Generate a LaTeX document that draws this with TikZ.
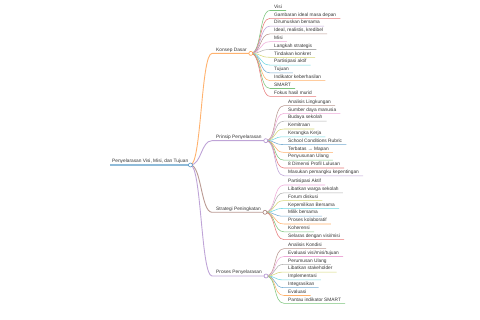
\documentclass[tikz,border=0pt]{standalone}
\usepackage{fontspec}
\setmainfont{Liberation Sans}
\usepackage{tikz}
\usetikzlibrary{calc}
\usepackage{xcolor}
\definecolor{mmblue}{HTML}{1F77B4}
\definecolor{mmorange}{HTML}{FF7F0E}
\definecolor{mmgreen}{HTML}{2CA02C}
\definecolor{mmred}{HTML}{D62728}
\definecolor{mmpurple}{HTML}{9467BD}
\definecolor{mmbrown}{HTML}{8C564B}
\definecolor{mmpink}{HTML}{E377C2}
\definecolor{mmgray}{HTML}{7F7F7F}
\definecolor{mmolive}{HTML}{BCBD22}
\definecolor{mmcyan}{HTML}{17BECF}
\definecolor{mmtext}{HTML}{333333}

\begin{document}
\begin{tikzpicture}[x=1pt,y=-1pt,
  every node/.style={font=\fontsize{4.8}{5}\selectfont,text=mmtext,inner ysep=1pt,text height=3.6pt,text depth=1pt,anchor=south west},
  root/.style={inner xsep=2pt},
  topic/.style={inner xsep=4pt},
  leaf/.style={inner xsep=4pt},
  lnk/.style={line width=.55pt,draw=#1!62},
  tlnk/.style={line width=.9pt,draw=#1!60},
  knob/.style={line width=.6pt,draw=#1!75,fill=white}]
  \useasboundingbox (0,0) rectangle (480,320);

  % root and main topics
  \node[root] (rt) at (110,165) {Penyelarasan Visi, Misi, dan Tujuan};
  \node[topic] (kd) at (212,53.4) {Konsep Dasar};
  \node[topic] (pp) at (212,140.7) {Prinsip Penyelarasan};
  \node[topic] (sp) at (212,212.3) {Strategi Peningkatan};
  \node[topic] (ps) at (212,276) {Proses Penyelarasan};

  % Konsep Dasar
  \node[leaf] (kd1) at (270,10.5) {Visi};
  \node[leaf] (kd2) at (270,18.3) {Gambaran ideal masa depan};
  \node[leaf] (kd3) at (270,26.1) {Dirumuskan bersama};
  \node[leaf] (kd4) at (270,33.9) {Ideal, realistis, kredibel};
  \node[leaf] (kd5) at (270,41.7) {Misi};
  \node[leaf] (kd6) at (270,49.5) {Langkah strategis};
  \node[leaf] (kd7) at (270,57.3) {Tindakan konkret};
  \node[leaf] (kd8) at (270,65.1) {Partisipasi aktif};
  \node[leaf] (kd9) at (270,72.9) {Tujuan};
  \node[leaf] (kd10) at (270,80.7) {Indikator keberhasilan};
  \node[leaf] (kd11) at (270,88.5) {SMART};
  \node[leaf] (kd12) at (270,96.3) {Fokus hasil murid};

  % Prinsip Penyelarasan
  \node[leaf] (pp1) at (284,105.6) {Analisis Lingkungan};
  \node[leaf] (pp2) at (284,113.4) {Sumber daya manusia};
  \node[leaf] (pp3) at (284,121.2) {Budaya sekolah};
  \node[leaf] (pp4) at (284,129.0) {Kemitraan};
  \node[leaf] (pp5) at (284,136.8) {Kerangka Kerja};
  \node[leaf] (pp6) at (284,144.6) {School Conditions Rubric};
  \node[leaf] (pp7) at (284,152.4) {Terbatas → Mapan};
  \node[leaf] (pp8) at (284,160.2) {Penyusunan Ulang};
  \node[leaf] (pp9) at (284,168.0) {8 Dimensi Profil Lulusan};
  \node[leaf] (pp10) at (284,175.8) {Masukan pemangku kepentingan};

  % Strategi Peningkatan
  \node[leaf] (sp1) at (284,185.0) {Partisipasi Aktif};
  \node[leaf] (sp2) at (284,192.8) {Libatkan warga sekolah};
  \node[leaf] (sp3) at (284,200.6) {Forum diskusi};
  \node[leaf] (sp4) at (284,208.4) {Kepemilikan Bersama};
  \node[leaf] (sp5) at (284,216.2) {Milik bersama};
  \node[leaf] (sp6) at (284,224.0) {Proses kolaboratif};
  \node[leaf] (sp7) at (284,231.8) {Koherensi};
  \node[leaf] (sp8) at (284,239.6) {Selaras dengan visi/misi};

  % Proses Penyelarasan
  \node[leaf] (ps1) at (284,248.7) {Analisis Kondisi};
  \node[leaf] (ps2) at (284,256.5) {Evaluasi visi/misi/tujuan};
  \node[leaf] (ps3) at (284,264.3) {Perumusan Ulang};
  \node[leaf] (ps4) at (284,272.1) {Libatkan stakeholder};
  \node[leaf] (ps5) at (284,279.9) {Implementasi};
  \node[leaf] (ps6) at (284,287.7) {Integrasikan};
  \node[leaf] (ps7) at (284,295.5) {Evaluasi};
  \node[leaf] (ps8) at (284,303.3) {Pantau indikator SMART};

  % links from root
  \draw[line width=1.5pt,draw=mmblue!50] (rt.south west) -- (rt.south east);
  \draw[tlnk=mmorange] (rt.south east) .. controls +(11,0) and +(-11,0) .. (kd.south west) -- (kd.south east);
  \draw[tlnk=mmpurple] (rt.south east) .. controls +(11,0) and +(-11,0) .. (pp.south west) -- (pp.south east);
  \draw[tlnk=mmbrown] (rt.south east) .. controls +(11,0) and +(-11,0) .. (sp.south west) -- (sp.south east);
  \draw[tlnk=mmpurple] (rt.south east) .. controls +(11,0) and +(-11,0) .. (ps.south west) -- (ps.south east);

  % links of Konsep Dasar
  \draw[lnk=mmgreen] (kd.south east) .. controls +(11,0) and +(-11,0) .. (kd1.south west) -- (kd1.south east);
  \draw[lnk=mmred] (kd.south east) .. controls +(11,0) and +(-11,0) .. (kd2.south west) -- (kd2.south east);
  \draw[lnk=mmpurple] (kd.south east) .. controls +(11,0) and +(-11,0) .. (kd3.south west) -- (kd3.south east);
  \draw[lnk=mmbrown] (kd.south east) .. controls +(11,0) and +(-11,0) .. (kd4.south west) -- (kd4.south east);
  \draw[lnk=mmpink] (kd.south east) .. controls +(11,0) and +(-11,0) .. (kd5.south west) -- (kd5.south east);
  \draw[lnk=mmgray] (kd.south east) .. controls +(11,0) and +(-11,0) .. (kd6.south west) -- (kd6.south east);
  \draw[lnk=mmolive] (kd.south east) .. controls +(11,0) and +(-11,0) .. (kd7.south west) -- (kd7.south east);
  \draw[lnk=mmcyan] (kd.south east) .. controls +(11,0) and +(-11,0) .. (kd8.south west) -- (kd8.south east);
  \draw[lnk=mmblue] (kd.south east) .. controls +(11,0) and +(-11,0) .. (kd9.south west) -- (kd9.south east);
  \draw[lnk=mmorange] (kd.south east) .. controls +(11,0) and +(-11,0) .. (kd10.south west) -- (kd10.south east);
  \draw[lnk=mmgreen] (kd.south east) .. controls +(11,0) and +(-11,0) .. (kd11.south west) -- (kd11.south east);
  \draw[lnk=mmred] (kd.south east) .. controls +(11,0) and +(-11,0) .. (kd12.south west) -- (kd12.south east);

  % links of Prinsip Penyelarasan
  \draw[lnk=mmbrown] (pp.south east) .. controls +(11,0) and +(-11,0) .. (pp1.south west) -- (pp1.south east);
  \draw[lnk=mmpink] (pp.south east) .. controls +(11,0) and +(-11,0) .. (pp2.south west) -- (pp2.south east);
  \draw[lnk=mmgray] (pp.south east) .. controls +(11,0) and +(-11,0) .. (pp3.south west) -- (pp3.south east);
  \draw[lnk=mmolive] (pp.south east) .. controls +(11,0) and +(-11,0) .. (pp4.south west) -- (pp4.south east);
  \draw[lnk=mmcyan] (pp.south east) .. controls +(11,0) and +(-11,0) .. (pp5.south west) -- (pp5.south east);
  \draw[lnk=mmblue] (pp.south east) .. controls +(11,0) and +(-11,0) .. (pp6.south west) -- (pp6.south east);
  \draw[lnk=mmorange] (pp.south east) .. controls +(11,0) and +(-11,0) .. (pp7.south west) -- (pp7.south east);
  \draw[lnk=mmgreen] (pp.south east) .. controls +(11,0) and +(-11,0) .. (pp8.south west) -- (pp8.south east);
  \draw[lnk=mmred] (pp.south east) .. controls +(11,0) and +(-11,0) .. (pp9.south west) -- (pp9.south east);
  \draw[lnk=mmpurple] (pp.south east) .. controls +(11,0) and +(-11,0) .. (pp10.south west) -- (pp10.south east);

  % links of Strategi Peningkatan
  \draw[lnk=mmpink] (sp.south east) .. controls +(11,0) and +(-11,0) .. (sp1.south west) -- (sp1.south east);
  \draw[lnk=mmgray] (sp.south east) .. controls +(11,0) and +(-11,0) .. (sp2.south west) -- (sp2.south east);
  \draw[lnk=mmolive] (sp.south east) .. controls +(11,0) and +(-11,0) .. (sp3.south west) -- (sp3.south east);
  \draw[lnk=mmcyan] (sp.south east) .. controls +(11,0) and +(-11,0) .. (sp4.south west) -- (sp4.south east);
  \draw[lnk=mmblue] (sp.south east) .. controls +(11,0) and +(-11,0) .. (sp5.south west) -- (sp5.south east);
  \draw[lnk=mmorange] (sp.south east) .. controls +(11,0) and +(-11,0) .. (sp6.south west) -- (sp6.south east);
  \draw[lnk=mmgreen] (sp.south east) .. controls +(11,0) and +(-11,0) .. (sp7.south west) -- (sp7.south east);
  \draw[lnk=mmred] (sp.south east) .. controls +(11,0) and +(-11,0) .. (sp8.south west) -- (sp8.south east);

  % links of Proses Penyelarasan
  \draw[lnk=mmbrown] (ps.south east) .. controls +(11,0) and +(-11,0) .. (ps1.south west) -- (ps1.south east);
  \draw[lnk=mmpink] (ps.south east) .. controls +(11,0) and +(-11,0) .. (ps2.south west) -- (ps2.south east);
  \draw[lnk=mmgray] (ps.south east) .. controls +(11,0) and +(-11,0) .. (ps3.south west) -- (ps3.south east);
  \draw[lnk=mmolive] (ps.south east) .. controls +(11,0) and +(-11,0) .. (ps4.south west) -- (ps4.south east);
  \draw[lnk=mmcyan] (ps.south east) .. controls +(11,0) and +(-11,0) .. (ps5.south west) -- (ps5.south east);
  \draw[lnk=mmblue] (ps.south east) .. controls +(11,0) and +(-11,0) .. (ps6.south west) -- (ps6.south east);
  \draw[lnk=mmorange] (ps.south east) .. controls +(11,0) and +(-11,0) .. (ps7.south west) -- (ps7.south east);
  \draw[lnk=mmgreen] (ps.south east) .. controls +(11,0) and +(-11,0) .. (ps8.south west) -- (ps8.south east);

  % knobs
  \draw[knob=mmblue] (rt.south east) circle (2pt);
  \draw[knob=mmorange] (kd.south east) circle (2pt);
  \draw[knob=mmpurple] (pp.south east) circle (2pt);
  \draw[knob=mmbrown] (sp.south east) circle (2pt);
  \draw[knob=mmpurple] (ps.south east) circle (2pt);
\end{tikzpicture}
\end{document}
